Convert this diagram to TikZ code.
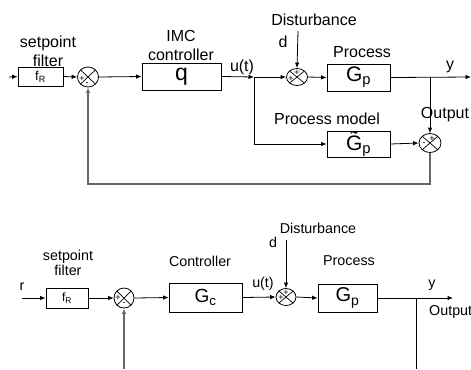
\documentclass[tikz,border=0pt]{standalone}
\usepackage{fontspec}
\setmainfont{Liberation Sans}
\usetikzlibrary{arrows.meta,shapes.geometric}
\tikzset{
  blk/.style={draw, line width=0.8bp, inner sep=0pt},
  sumj/.style={draw, ellipse, line width=0.8bp, inner sep=0pt,
    path picture={\draw[line width=0.7bp] (path picture bounding box.north west)--(path picture bounding box.south east)
      (path picture bounding box.north east)--(path picture bounding box.south west);}},
  arr/.style={line width=0.8bp, -{Latex[length=5.5bp,width=4.5bp]}},
  ln/.style={line width=0.8bp},
  fbarr/.style={draw=black!60, line width=1.3bp, -{Latex[length=5.5bp,width=4.5bp,fill=black]}},
  lblA/.style={inner sep=0pt, align=center, font=\fontsize{16bp}{19bp}\selectfont},
  lblB/.style={inner sep=0pt, align=center, font=\fontsize{14.3bp}{15bp}\selectfont},
  sgn/.style={inner sep=0pt, font=\fontsize{9bp}{9bp}\selectfont},
}
\begin{document}
\begin{tikzpicture}[x=1bp,y=-1bp]
\useasboundingbox (0,0) rectangle (471,369);
% ---------------- top diagram ----------------
\coordinate (in1) at (9,77);
\node[blk, minimum width=45bp, minimum height=19bp, font=\fontsize{13bp}{13bp}\selectfont] (fR1) at (40.5,76.5) {f\textsubscript{R}};
\node[lblA] (spf1) at (48,51) {setpoint\\filter};
\node[sumj, minimum width=21bp, minimum height=20bp] (s1) at (88,77) {};
\node[sgn] (s1p) at (82,79) {+};
\node[sgn] (s1m) at (87,84) {-};
\node[blk, minimum width=79bp, minimum height=27bp, font=\fontsize{23bp}{23bp}\selectfont] (q) at (181.5,76.5) {q};
\node[lblA] (imc) at (181,45) {IMC\\controller};
\coordinate (b1) at (254,77);
\node[lblA] (ut1) at (242,67) {u(t)};
\node[sumj, minimum width=21bp, minimum height=17bp] (s2) at (297,77) {};
\node[sgn] (s2p) at (291,79) {+};
\node[sgn] (s2q) at (297,73) {+};
\node[lblA] (dist1) at (314,20) {Disturbance};
\node[lblA] (d1) at (283,42) {d};
\coordinate (dt1) at (298,31);
\node[blk, minimum width=63bp, minimum height=27bp, font=\fontsize{21bp}{21bp}\selectfont] (Gp1) at (358.5,77.5) {G\textsubscript{p}};
\node[lblA] (proc1) at (362,52) {Process};
\node[lblA] (y1) at (450,67) {y};
\coordinate (out1) at (471,77);
\coordinate (b2) at (430,77);
\node[lblA] (pm) at (327,119) {Process model};
\node[blk, minimum width=63bp, minimum height=26bp, font=\fontsize{21bp}{21bp}\selectfont] (Gt) at (358.5,144) {\~{G}\textsubscript{p}};
\node[sgn] (s3p) at (432,139) {+};
\node[sumj, minimum width=22bp, minimum height=19bp] (s3) at (430,143) {};
\node[sgn] (s3m) at (424,144) {-};
\node[lblA] (outl1) at (445,115) {Output};
\coordinate (fb1) at (430,184);
\coordinate (fb2) at (88,184);
\draw[arr] (in1) -- (fR1.west);
\draw[arr] (fR1.east) -- (s1.west);
\draw[arr] (s1.east) -- (q.west);
\draw[arr] (q.east) -- (b1);
\draw[arr] (b1) -- (s2.west);
\draw[arr] (dt1) -- (s2.north);
\draw[arr] (s2.east) -- (Gp1.west);
\draw[arr] (Gp1.east) -- (out1);
\draw[arr] (b2) -- (s3.north);
\draw[arr] (b1) |- (Gt.west);
\draw[arr] (Gt.east) -- (s3.west);
\draw[fbarr] (s3.south) -- (fb1) -- (fb2) -- (s1.south);
% ---------------- bottom diagram ----------------
\node[lblB] (r) at (22,287) {r};
\coordinate (in2) at (22,298);
\node[blk, minimum width=42bp, minimum height=20bp, font=\fontsize{12bp}{12bp}\selectfont] (fR2) at (67,298) {f\textsubscript{R}};
\node[lblB] (spf2) at (68,263) {setpoint\\filter};
\node[sumj, minimum width=20bp, minimum height=20bp] (s4) at (124,298) {};
\node[sgn] (s4p) at (118,298) {+};
\node[sgn] (s4m) at (124,304) {-};
\node[blk, minimum width=73bp, minimum height=29bp, font=\fontsize{19bp}{19bp}\selectfont] (Gc) at (205.5,297.5) {G\textsubscript{c}};
\node[lblB] (ctrl) at (200,261) {Controller};
\node[lblB] (ut2) at (263,284) {u(t)};
\node[sumj, minimum width=20bp, minimum height=17bp] (s5) at (286,297) {};
\node[sgn] (s5p) at (281,298) {+};
\node[sgn] (s5q) at (286,293) {+};
\node[lblB] (dist2) at (318,228) {Disturbance};
\node[lblB] (d2) at (273,242) {d};
\coordinate (dt2) at (286,240);
\node[blk, minimum width=59bp, minimum height=28bp, font=\fontsize{20bp}{20bp}\selectfont] (Gp2) at (347.5,298) {G\textsubscript{p}};
\node[lblB] (proc2) at (349,261) {Process};
\node[lblB] (y2) at (432,285) {y};
\node[lblB, anchor=west] (outl2) at (429,312) {Output};
\coordinate (out2) at (453,298);
\coordinate (b3) at (416,298);
\coordinate (b3e) at (416,369);
\coordinate (fb3) at (124,369);
\draw[arr] (in2) -- (fR2.west);
\draw[arr] (fR2.east) -- (s4.west);
\draw[arr] (s4.east) -- (Gc.west);
\draw[arr] (Gc.east) -- (s5.west);
\draw[arr] (dt2) -- (s5.north);
\draw[arr] (s5.east) -- (Gp2.west);
\draw[arr] (Gp2.east) -- (out2);
\draw[ln] (b3) -- (b3e);
\draw[fbarr] (fb3) -- (s4.south);
\end{tikzpicture}
\end{document}
